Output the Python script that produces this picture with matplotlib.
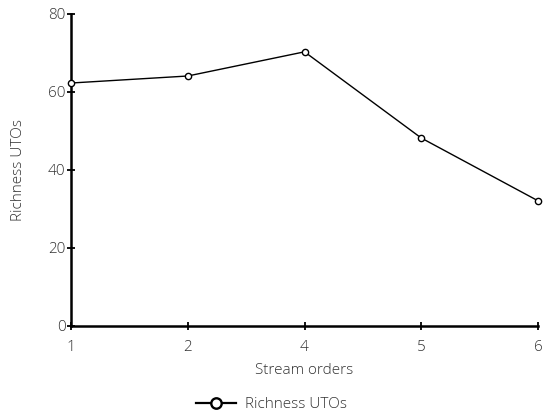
import matplotlib
matplotlib.use('Agg')
import matplotlib.pyplot as plt
from matplotlib.lines import Line2D

plt.rcParams['font.family'] = ['Open Sans', 'DejaVu Sans']
plt.rcParams['font.weight'] = 'light'
plt.rcParams['axes.labelweight'] = 'light'

orders = ['1', '2', '4', '5', '6']
richness = [62.3, 64.1, 70.3, 48.2, 32.1]

txt = '#333333'

fig = plt.figure(figsize=(5.43, 4.19), dpi=100)
ax = fig.add_axes([0.1308, 0.222, 0.86, 0.7446])

x = list(range(len(orders)))
ax.plot(x, richness, color='black', linewidth=1, marker='o', markersize=4.5,
        markerfacecolor='white', markeredgecolor='black', markeredgewidth=1,
        clip_on=False, zorder=5)

ax.set_xlim(0, len(orders) - 1)
ax.set_ylim(0, 80)
ax.set_xticks(x)
ax.set_xticklabels(orders)
ax.set_yticks([0, 20, 40, 60, 80])

for s in ['top', 'right']:
    ax.spines[s].set_visible(False)
for s in ['left', 'bottom']:
    ax.spines[s].set_linewidth(1.8)

ax.tick_params(direction='inout', length=6, width=1.3, labelsize=11,
               labelcolor=txt, pad=1)
ax.tick_params(axis='x', pad=7)

ax.set_xlabel('Stream orders', fontsize=11, color=txt, labelpad=6)
ax.set_ylabel('Richness UTOs', fontsize=11, color=txt, labelpad=16)

# legend handle drawn a bit heavier like the original
handle = Line2D([], [], color='black', linewidth=1.6, marker='o', markersize=7.5,
                markerfacecolor='white', markeredgecolor='black', markeredgewidth=1.7)
fig.legend([handle], ['Richness UTOs'], loc='lower center',
           bbox_to_anchor=(0.5, -0.017), frameon=False, fontsize=11,
           labelcolor=txt, handlelength=2.6, handletextpad=0.6)

plt.savefig('out.png', dpi=100)
plt.close()
